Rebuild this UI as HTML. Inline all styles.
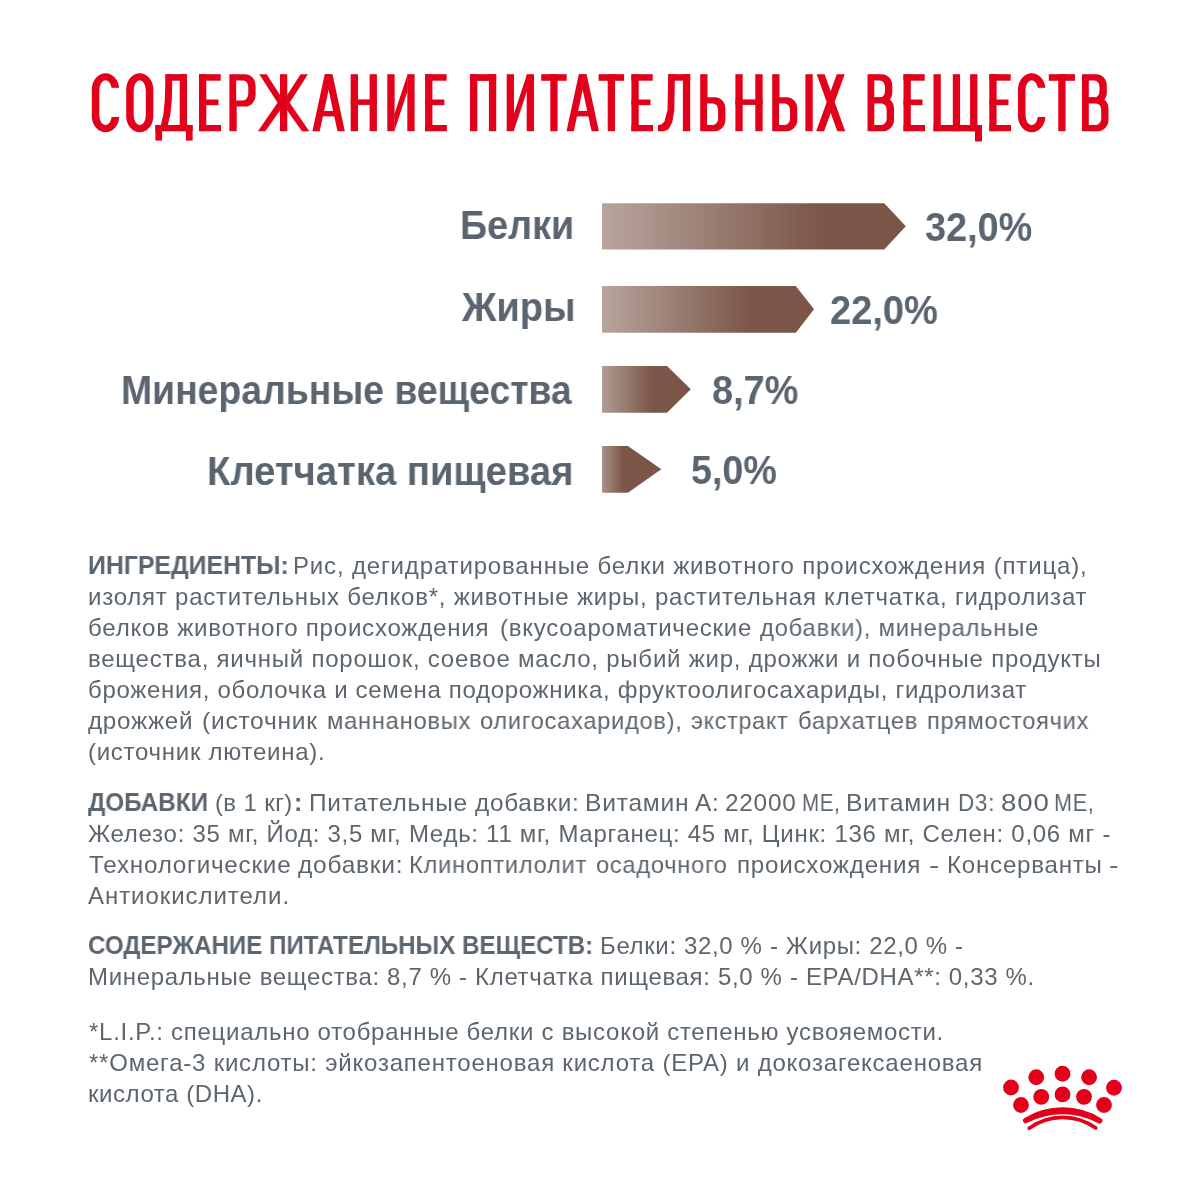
<!DOCTYPE html>
<html lang="ru"><head><meta charset="utf-8"><title>Содержание питательных веществ</title>
<style>
html,body{margin:0;padding:0;background:#fff;}
body{width:1200px;height:1200px;overflow:hidden;font-family:"Liberation Sans",sans-serif;}
#page{position:relative;width:1200px;height:1200px;background:#fff;overflow:hidden;}
.ln{will-change:transform;position:absolute;white-space:pre;line-height:1;transform-origin:0 0;font-family:"Liberation Sans",sans-serif;font-weight:400;}
.ln b{font-weight:700;}
svg{position:absolute;left:0;top:0;}
</style>

</head><body><div id="page">
<svg width="1200" height="160" viewBox="0 0 1200 160">
<g transform="translate(91.8 74.2)">
<path fill="#e2001a" d="M0 15.2A13.7 16.2 0 0 1 27.4 15.2V41.8A13.7 16.2 0 0 1 0 41.8V15.2z"/>
<path fill="#fff" d="M7.5 16.2A6.2 10.2 0 0 1 19.9 16.2V40.8A6.2 10.2 0 0 1 7.5 40.8V16.2z"/>
<path fill="#fff" d="M14.5 13.6h14.5v29.2h-14.5z"/>
</g>
<g transform="translate(126.2 74.2)">
<path fill="#e2001a" d="M0 15.05A13.55 16.05 0 0 1 27.1 15.05V41.95A13.55 16.05 0 0 1 0 41.95V15.05z"/>
<path fill="#fff" d="M7.5 16.05A6.05 10.05 0 0 1 19.6 16.05V40.95A6.05 10.05 0 0 1 7.5 40.95V16.05z"/>
</g>
<g transform="translate(155.4 74.2)">
<path fill="#e2001a" d="M0 50.8h37.2v6.2h-37.2z"/>
<path fill="#e2001a" d="M0 50.8h6.7v15.6h-6.7z"/>
<path fill="#e2001a" d="M30.5 50.8h6.7v15.6h-6.7z"/>
<path fill="#e2001a" d="M24.3 0h7.3v57h-7.3z"/>
<path fill="#e2001a" d="M10.1 0h21v6.5h-21z"/>
<path fill="#e2001a" d="M10.1 0L17 0L16.4 26L15 40L12.2 51.8L5.2 51.8L8 40L9.4 26z"/>
</g>
<g transform="translate(199 74.2)">
<path fill="#e2001a" d="M0 0h7.3v57h-7.3z"/>
<path fill="#e2001a" d="M0 0h21.7v6.5h-21.7z"/>
<path fill="#e2001a" d="M0 25.3h19.5v5.6h-19.5z"/>
<path fill="#e2001a" d="M0 50.8h22v6.2h-22z"/>
</g>
<g transform="translate(229.4 74.2)">
<path fill="#e2001a" d="M0 0h7.3v57h-7.3z"/>
<path fill="#e2001a" d="M6.8 0H15.7A10.5 11.5 0 0 1 26.2 11.5V20.9A10.5 11.5 0 0 1 15.7 32.4H6.8z"/>
<path fill="#fff" d="M6.8 6.2H13.66A5.24 6.54 0 0 1 18.9 12.74V19.66A5.24 6.54 0 0 1 13.66 26.2H6.8z"/>
</g>
<g transform="translate(257.7 74.2)">
<path fill="#e2001a" d="M22.25 0h7.3v57h-7.3z"/>
<path fill="#e2001a" d="M1.6 0L8.9 0L22.45 21L22.45 36L7.5 57L0.2 57L19.85 28.5z"/>
<path fill="#e2001a" d="M50.2 0L42.9 0L29.35 21L29.35 36L44.3 57L51.6 57L31.95 28.5z"/>
</g>
<g transform="translate(312.4 74.2)">
<path fill="#e2001a" d="M0 57L7.3 57L19.6 0L12.3 0z"/>
<path fill="#e2001a" d="M32.4 57L25.1 57L12.8 0L20.1 0z"/>
<path fill="#e2001a" d="M6 36.7h20.4v5.5h-20.4z"/>
</g>
<g transform="translate(350.7 74.2)">
<path fill="#e2001a" d="M0 0h7.3v57h-7.3z"/>
<path fill="#e2001a" d="M18.9 0h7.3v57h-7.3z"/>
<path fill="#e2001a" d="M0 25.2h26.2v5.5h-26.2z"/>
</g>
<g transform="translate(387.3 74.2)">
<path fill="#e2001a" d="M0 0h7.3v57h-7.3z"/>
<path fill="#e2001a" d="M20 0h7.3v57h-7.3z"/>
<path fill="#e2001a" d="M7 57L7 40.2L20.3 0L20.3 16.8z"/>
</g>
<g transform="translate(425.1 74.2)">
<path fill="#e2001a" d="M0 0h7.3v57h-7.3z"/>
<path fill="#e2001a" d="M0 0h21.5v6.5h-21.5z"/>
<path fill="#e2001a" d="M0 25.3h19.3v5.6h-19.3z"/>
<path fill="#e2001a" d="M0 50.8h21.8v6.2h-21.8z"/>
</g>
<g transform="translate(470 74.2)">
<path fill="#e2001a" d="M0 0h7.3v57h-7.3z"/>
<path fill="#e2001a" d="M18.9 0h7.3v57h-7.3z"/>
<path fill="#e2001a" d="M0 0h26.2v6.7h-26.2z"/>
</g>
<g transform="translate(506.7 74.2)">
<path fill="#e2001a" d="M0 0h7.3v57h-7.3z"/>
<path fill="#e2001a" d="M20 0h7.3v57h-7.3z"/>
<path fill="#e2001a" d="M7 57L7 40.2L20.3 0L20.3 16.8z"/>
</g>
<g transform="translate(541.2 74.2)">
<path fill="#e2001a" d="M0 0h25.5v6.6h-25.5z"/>
<path fill="#e2001a" d="M9.1 0h7.3v57h-7.3z"/>
</g>
<g transform="translate(566.5 74.2)">
<path fill="#e2001a" d="M0 57L7.3 57L19.6 0L12.3 0z"/>
<path fill="#e2001a" d="M32.4 57L25.1 57L12.8 0L20.1 0z"/>
<path fill="#e2001a" d="M6 36.7h20.4v5.5h-20.4z"/>
</g>
<g transform="translate(598.6 74.2)">
<path fill="#e2001a" d="M0 0h25.5v6.6h-25.5z"/>
<path fill="#e2001a" d="M9.1 0h7.3v57h-7.3z"/>
</g>
<g transform="translate(631.4 74.2)">
<path fill="#e2001a" d="M0 0h7.3v57h-7.3z"/>
<path fill="#e2001a" d="M0 0h21.3v6.5h-21.3z"/>
<path fill="#e2001a" d="M0 25.3h19.1v5.6h-19.1z"/>
<path fill="#e2001a" d="M0 50.8h21.6v6.2h-21.6z"/>
</g>
<g transform="translate(658 74.2)">
<path fill="#e2001a" d="M24.9 0h7.3v57h-7.3z"/>
<path fill="#e2001a" d="M10.2 0h22v6.5h-22z"/>
<path fill="#e2001a" d="M10.2 0L16.9 0L16.3 36L14.3 48L10.5 55L6 57L0 57L0 50.8L3.5 50.4L6.6 47L8.6 39L9.5 36z"/>
</g>
<g transform="translate(700.2 74.2)">
<path fill="#e2001a" d="M0 0h7.3v57h-7.3z"/>
<path fill="#e2001a" d="M6.8 23H14.7A10.5 11.5 0 0 1 25.2 34.5V45.5A10.5 11.5 0 0 1 14.7 57H6.8z"/>
<path fill="#fff" d="M6.8 29.2H12.66A5.24 6.54 0 0 1 17.9 35.74V44.26A5.24 6.54 0 0 1 12.66 50.8H6.8z"/>
</g>
<g transform="translate(735.4 74.2)">
<path fill="#e2001a" d="M0 0h7.3v57h-7.3z"/>
<path fill="#e2001a" d="M19.9 0h7.3v57h-7.3z"/>
<path fill="#e2001a" d="M0 25.2h27.2v5.5h-27.2z"/>
</g>
<g transform="translate(772.2 74.2)">
<path fill="#e2001a" d="M0 0h7.3v57h-7.3z"/>
<path fill="#e2001a" d="M6.8 23H14.6A10.5 11.5 0 0 1 25.1 34.5V45.5A10.5 11.5 0 0 1 14.6 57H6.8z"/>
<path fill="#fff" d="M6.8 29.2H12.56A5.24 6.54 0 0 1 17.8 35.74V44.26A5.24 6.54 0 0 1 12.56 50.8H6.8z"/>
<path fill="#e2001a" d="M33.2 0h7.3v57h-7.3z"/>
</g>
<g transform="translate(816.2 74.2)">
<path fill="#e2001a" d="M0.5 0L8.4 0L29 57L21.1 57z"/>
<path fill="#e2001a" d="M28.5 0L20.6 0L0 57L7.9 57z"/>
</g>
<g transform="translate(867.5 74.2)">
<path fill="#e2001a" d="M0 0h7.3v57h-7.3z"/>
<path fill="#e2001a" d="M6.8 0H14.3A10.5 11.5 0 0 1 24.8 11.5V18.1A10.5 11.5 0 0 1 14.3 29.6H6.8z"/>
<path fill="#fff" d="M6.8 6.2H12.26A5.24 6.54 0 0 1 17.5 12.74V16.86A5.24 6.54 0 0 1 12.26 23.4H6.8z"/>
<path fill="#e2001a" d="M6.8 23H16A10.5 11.5 0 0 1 26.5 34.5V45.5A10.5 11.5 0 0 1 16 57H6.8z"/>
<path fill="#fff" d="M6.8 29.2H13.96A5.24 6.54 0 0 1 19.2 35.74V44.26A5.24 6.54 0 0 1 13.96 50.8H6.8z"/>
</g>
<g transform="translate(903.5 74.2)">
<path fill="#e2001a" d="M0 0h7.3v57h-7.3z"/>
<path fill="#e2001a" d="M0 0h21.2v6.5h-21.2z"/>
<path fill="#e2001a" d="M0 25.3h19v5.6h-19z"/>
<path fill="#e2001a" d="M0 50.8h21.5v6.2h-21.5z"/>
</g>
<g transform="translate(933.5 74.2)">
<path fill="#e2001a" d="M0 0h7.3v57h-7.3z"/>
<path fill="#e2001a" d="M19.3 0h7.3v57h-7.3z"/>
<path fill="#e2001a" d="M36.6 0h7.3v57h-7.3z"/>
<path fill="#e2001a" d="M0 50.8h48.5v6.2h-48.5z"/>
<path fill="#e2001a" d="M41.5 50.8h7v16.5h-7z"/>
</g>
<g transform="translate(989.3 74.2)">
<path fill="#e2001a" d="M0 0h7.3v57h-7.3z"/>
<path fill="#e2001a" d="M0 0h21.4v6.5h-21.4z"/>
<path fill="#e2001a" d="M0 25.3h19.2v5.6h-19.2z"/>
<path fill="#e2001a" d="M0 50.8h21.7v6.2h-21.7z"/>
</g>
<g transform="translate(1018 74.2)">
<path fill="#e2001a" d="M0 15.2A13.7 16.2 0 0 1 27.4 15.2V41.8A13.7 16.2 0 0 1 0 41.8V15.2z"/>
<path fill="#fff" d="M7.5 16.2A6.2 10.2 0 0 1 19.9 16.2V40.8A6.2 10.2 0 0 1 7.5 40.8V16.2z"/>
<path fill="#fff" d="M14.5 13.6h14.5v29.2h-14.5z"/>
</g>
<g transform="translate(1048.8 74.2)">
<path fill="#e2001a" d="M0 0h26.2v6.6h-26.2z"/>
<path fill="#e2001a" d="M9.45 0h7.3v57h-7.3z"/>
</g>
<g transform="translate(1082 74.2)">
<path fill="#e2001a" d="M0 0h7.3v57h-7.3z"/>
<path fill="#e2001a" d="M6.8 0H14.3A10.5 11.5 0 0 1 24.8 11.5V18.1A10.5 11.5 0 0 1 14.3 29.6H6.8z"/>
<path fill="#fff" d="M6.8 6.2H12.26A5.24 6.54 0 0 1 17.5 12.74V16.86A5.24 6.54 0 0 1 12.26 23.4H6.8z"/>
<path fill="#e2001a" d="M6.8 23H16A10.5 11.5 0 0 1 26.5 34.5V45.5A10.5 11.5 0 0 1 16 57H6.8z"/>
<path fill="#fff" d="M6.8 29.2H13.96A5.24 6.54 0 0 1 19.2 35.74V44.26A5.24 6.54 0 0 1 13.96 50.8H6.8z"/>
</g>
</svg>
<svg width="1200" height="1200" viewBox="0 0 1200 1200">
<defs>
<linearGradient id="g1" gradientUnits="userSpaceOnUse" x1="602" y1="0" x2="823" y2="0"><stop offset="0" stop-color="#b8a59d"/><stop offset="1" stop-color="#7b5548"/></linearGradient>
<linearGradient id="g2" gradientUnits="userSpaceOnUse" x1="602" y1="0" x2="752" y2="0"><stop offset="0" stop-color="#b8a59d"/><stop offset="1" stop-color="#7b5548"/></linearGradient>
<linearGradient id="g3" gradientUnits="userSpaceOnUse" x1="602" y1="0" x2="653" y2="0"><stop offset="0" stop-color="#b09c93"/><stop offset="1" stop-color="#7b5548"/></linearGradient>
<linearGradient id="g4" gradientUnits="userSpaceOnUse" x1="602" y1="0" x2="623" y2="0"><stop offset="0" stop-color="#a8938a"/><stop offset="1" stop-color="#7b5548"/></linearGradient>
</defs>
<polygon fill="url(#g1)" points="602,203.2 884.2,203.2 905.8,226.3 884.2,249.6 602,249.6"/>
<polygon fill="url(#g2)" points="602,286.1 795.8,286.1 814,309.3 795.8,332.7 602,332.7"/>
<polygon fill="url(#g3)" points="602,366.1 667,366.1 690.8,389.3 667,412.7 602,412.7"/>
<polygon fill="url(#g4)" points="602,446.1 627.9,446.1 661.3,469.3 627.9,492.7 602,492.7"/>
</svg>

<div class="ln" id="c1" style="left:460.23px;top:205.00px;font-size:40px;color:#5a6570;transform:scaleX(0.9430);"><b>Белки</b></div>
<div class="ln" id="c2" style="left:461.72px;top:287.00px;font-size:40px;color:#5a6570;transform:scaleX(0.9507);"><b>Жиры</b></div>
<div class="ln" id="c3" style="left:120.73px;top:370.00px;font-size:40px;color:#5a6570;transform:scaleX(0.9340);"><b>Минеральные вещества</b></div>
<div class="ln" id="c4" style="left:207.15px;top:451.00px;font-size:40px;color:#5a6570;transform:scaleX(0.9560);"><b>Клетчатка пищевая</b></div>
<div class="ln" id="v1" style="left:924.81px;top:207.00px;font-size:40px;color:#5a6570;transform:scaleX(0.9465);"><b>32,0%</b></div>
<div class="ln" id="v2" style="left:830.38px;top:290.00px;font-size:40px;color:#5a6570;transform:scaleX(0.9517);"><b>22,0%</b></div>
<div class="ln" id="v3" style="left:711.84px;top:370.00px;font-size:40px;color:#5a6570;transform:scaleX(0.9485);"><b>8,7%</b></div>
<div class="ln" id="v4" style="left:690.79px;top:450.00px;font-size:40px;color:#5a6570;transform:scaleX(0.9424);"><b>5,0%</b></div>
<div class="ln" id="p11a" style="left:88.33px;top:553.00px;font-size:25px;color:#5d666e;transform:scaleX(0.9934);"><b>ИНГРЕДИЕНТЫ:</b></div>
<div class="ln" id="p11b" style="left:293.00px;top:554.00px;font-size:24px;color:#5d666e;letter-spacing:0.843px;">Рис, дегидратированные белки животного происхождения (птица),</div>
<div class="ln" id="p12" style="left:88.21px;top:585.00px;font-size:24px;color:#5d666e;letter-spacing:0.773px;">изолят растительных белков*, животные жиры, растительная клетчатка, гидролизат</div>
<div class="ln" id="p13_0" style="left:87.59px;top:616.00px;font-size:24px;color:#5d666e;transform:scaleX(1.0040);letter-spacing:0.750px;">белков животного происхождения</div>
<div class="ln" id="p13_1" style="left:500.11px;top:616.00px;font-size:24px;color:#5d666e;letter-spacing:0.750px;">(вкусоароматические</div>
<div class="ln" id="p13_2" style="left:760.00px;top:616.00px;font-size:24px;color:#5d666e;transform:scaleX(0.9926);letter-spacing:0.750px;">добавки), минеральные</div>
<div class="ln" id="p14" style="left:88.21px;top:647.00px;font-size:24px;color:#5d666e;letter-spacing:0.771px;">вещества, яичный порошок, соевое масло, рыбий жир, дрожжи и побочные продукты</div>
<div class="ln" id="p15" style="left:88.07px;top:678.00px;font-size:24px;color:#5d666e;letter-spacing:0.686px;">брожения, оболочка и семена подорожника, фруктоолигосахариды, гидролизат</div>
<div class="ln" id="p16_0" style="left:87.78px;top:709.00px;font-size:24px;color:#5d666e;transform:scaleX(1.0074);letter-spacing:0.750px;">дрожжей</div>
<div class="ln" id="p16_1" style="left:202.11px;top:709.00px;font-size:24px;color:#5d666e;transform:scaleX(1.0212);letter-spacing:0.750px;">(источник</div>
<div class="ln" id="p16_2" style="left:326.95px;top:709.00px;font-size:24px;color:#5d666e;transform:scaleX(0.9889);letter-spacing:0.750px;">маннановых</div>
<div class="ln" id="p16_3" style="left:479.84px;top:709.00px;font-size:24px;color:#5d666e;transform:scaleX(0.9849);letter-spacing:0.750px;">олигосахаридов),</div>
<div class="ln" id="p16_4" style="left:691.22px;top:709.00px;font-size:24px;color:#5d666e;transform:scaleX(0.9689);letter-spacing:0.750px;">экстракт</div>
<div class="ln" id="p16_5" style="left:797.59px;top:709.00px;font-size:24px;color:#5d666e;transform:scaleX(0.9878);letter-spacing:0.750px;">бархатцев</div>
<div class="ln" id="p16_6" style="left:926.95px;top:709.00px;font-size:24px;color:#5d666e;transform:scaleX(0.9826);letter-spacing:0.750px;">прямостоячих</div>
<div class="ln" id="p17" style="left:88.12px;top:740.00px;font-size:24px;color:#5d666e;letter-spacing:0.728px;">(источник лютеина).</div>
<div class="ln" id="p21a" style="left:87.58px;top:790.00px;font-size:25px;color:#5d666e;transform:scaleX(0.9708);"><b>ДОБАВКИ</b></div>
<div class="ln" id="p21b" style="left:215.12px;top:791.00px;font-size:24px;color:#5d666e;letter-spacing:0.376px;">(в 1 кг)</div>
<div class="ln" id="p21c" style="left:293.93px;top:790.00px;font-size:25px;color:#5d666e;"><b>:</b></div>
<div class="ln" id="p21d_0" style="left:308.75px;top:791.00px;font-size:24px;color:#5d666e;transform:scaleX(1.0183);letter-spacing:0.750px;">Питательные</div>
<div class="ln" id="p21d_1" style="left:475.00px;top:791.00px;font-size:24px;color:#5d666e;transform:scaleX(1.0127);letter-spacing:0.750px;">добавки:</div>
<div class="ln" id="p21d_2" style="left:585.00px;top:791.00px;font-size:24px;color:#5d666e;transform:scaleX(1.0244);letter-spacing:0.750px;">Витамин</div>
<div class="ln" id="p21d_3" style="left:695.00px;top:791.00px;font-size:24px;color:#5d666e;transform:scaleX(1.0174);letter-spacing:0.750px;">А:</div>
<div class="ln" id="p21d_4" style="left:725.41px;top:791.00px;font-size:24px;color:#5d666e;transform:scaleX(1.0148);letter-spacing:0.750px;">22000</div>
<div class="ln" id="p21d_5" style="left:801.60px;top:791.00px;font-size:24px;color:#5d666e;transform:scaleX(0.8550);letter-spacing:0.750px;">МЕ,</div>
<div class="ln" id="p21d_6" style="left:845.88px;top:791.00px;font-size:24px;color:#5d666e;transform:scaleX(1.0295);letter-spacing:0.750px;">Витамин</div>
<div class="ln" id="p21d_7" style="left:958.00px;top:791.00px;font-size:24px;color:#5d666e;transform:scaleX(0.9351);letter-spacing:0.750px;">D3:</div>
<div class="ln" id="p21d_8" style="left:1000.90px;top:791.00px;font-size:24px;color:#5d666e;transform:scaleX(1.1505);letter-spacing:0.750px;">800</div>
<div class="ln" id="p21d_9" style="left:1054.00px;top:791.00px;font-size:24px;color:#5d666e;transform:scaleX(0.9000);letter-spacing:0.750px;">МЕ,</div>
<div class="ln" id="p22" style="left:88.47px;top:822.00px;font-size:24px;color:#5d666e;letter-spacing:0.718px;">Железо: 35 мг, Йод: 3,5 мг, Медь: 11 мг, Марганец: 45 мг, Цинк: 136 мг, Селен: 0,06 мг -</div>
<div class="ln" id="p23_0" style="left:89.45px;top:853.00px;font-size:24px;color:#5d666e;transform:scaleX(1.0101);letter-spacing:0.750px;">Технологические</div>
<div class="ln" id="p23_1" style="left:298.00px;top:853.00px;font-size:24px;color:#5d666e;transform:scaleX(1.0197);letter-spacing:0.750px;">добавки:</div>
<div class="ln" id="p23_2" style="left:408.90px;top:853.00px;font-size:24px;color:#5d666e;transform:scaleX(0.9854);letter-spacing:0.750px;">Клиноптилолит</div>
<div class="ln" id="p23_3" style="left:595.97px;top:853.00px;font-size:24px;color:#5d666e;transform:scaleX(0.9847);letter-spacing:0.750px;">осадочного</div>
<div class="ln" id="p23_4" style="left:736.95px;top:853.00px;font-size:24px;color:#5d666e;transform:scaleX(1.0073);letter-spacing:0.750px;">происхождения</div>
<div class="ln" id="p23_5" style="left:928.94px;top:853.00px;font-size:24px;color:#5d666e;transform:scaleX(1.2775);letter-spacing:0.750px;">-</div>
<div class="ln" id="p23_6" style="left:946.60px;top:853.00px;font-size:24px;color:#5d666e;transform:scaleX(1.0056);letter-spacing:0.750px;">Консерванты</div>
<div class="ln" id="p23_7" style="left:1108.94px;top:853.00px;font-size:24px;color:#5d666e;transform:scaleX(1.1923);letter-spacing:0.750px;">-</div>
<div class="ln" id="p24" style="left:87.88px;top:884.00px;font-size:24px;color:#5d666e;letter-spacing:0.955px;">Антиокислители.</div>
<div class="ln" id="p31a" style="left:88.16px;top:933.00px;font-size:25px;color:#5d666e;transform:scaleX(0.9647);"><b>СОДЕРЖАНИЕ ПИТАТЕЛЬНЫХ ВЕЩЕСТВ:</b></div>
<div class="ln" id="p31b" style="left:600.00px;top:934.00px;font-size:24px;color:#5d666e;letter-spacing:0.641px;">Белки: 32,0 % - Жиры: 22,0 % -</div>
<div class="ln" id="p32" style="left:88.00px;top:965.00px;font-size:24px;color:#5d666e;letter-spacing:0.662px;">Минеральные вещества: 8,7 % - Клетчатка пищевая: 5,0 % - EPA/DHA**: 0,33 %.</div>
<div class="ln" id="f1" style="left:89.09px;top:1020.00px;font-size:24px;color:#5d666e;letter-spacing:0.719px;">*L.I.P.: специально отобранные белки с высокой степенью усвояемости.</div>
<div class="ln" id="f2" style="left:89.09px;top:1051.00px;font-size:24px;color:#5d666e;letter-spacing:0.785px;">**Омега-3 кислоты: эйкозапентоеновая кислота (EPA) и докозагексаеновая</div>
<div class="ln" id="f3" style="left:87.77px;top:1082.00px;font-size:24px;color:#5d666e;letter-spacing:0.558px;">кислота (DHA).</div>
<svg width="1200" height="1200" viewBox="0 0 1200 1200">
<g fill="#e2001a">
<circle cx="1011" cy="1087.5" r="7.9"/><circle cx="1036.25" cy="1077.25" r="7.9"/><circle cx="1062.5" cy="1073.75" r="7.9"/><circle cx="1089.1" cy="1077.25" r="7.9"/><circle cx="1114" cy="1087.75" r="7.9"/>
<circle cx="1021" cy="1105" r="7.9"/><circle cx="1041.25" cy="1096.9" r="7.9"/><circle cx="1062.5" cy="1094.4" r="7.9"/><circle cx="1084" cy="1096.9" r="7.9"/><circle cx="1104" cy="1105" r="7.9"/>
<path d="M1024.2 1118.2A72.9 72.9 0 0 1 1101.2 1118.4A2.75 2.75 0 0 1 1098 1123A76.7 76.7 0 0 0 1027.4 1122.8A2.75 2.75 0 0 1 1024.2 1118.2z"/>
</g>
<path d="M1029.2 1128.2A56.7 56.7 0 0 1 1095.8 1128" fill="none" stroke="#e2001a" stroke-width="3.7" stroke-linecap="round"/>
</svg>

</div></body></html>
